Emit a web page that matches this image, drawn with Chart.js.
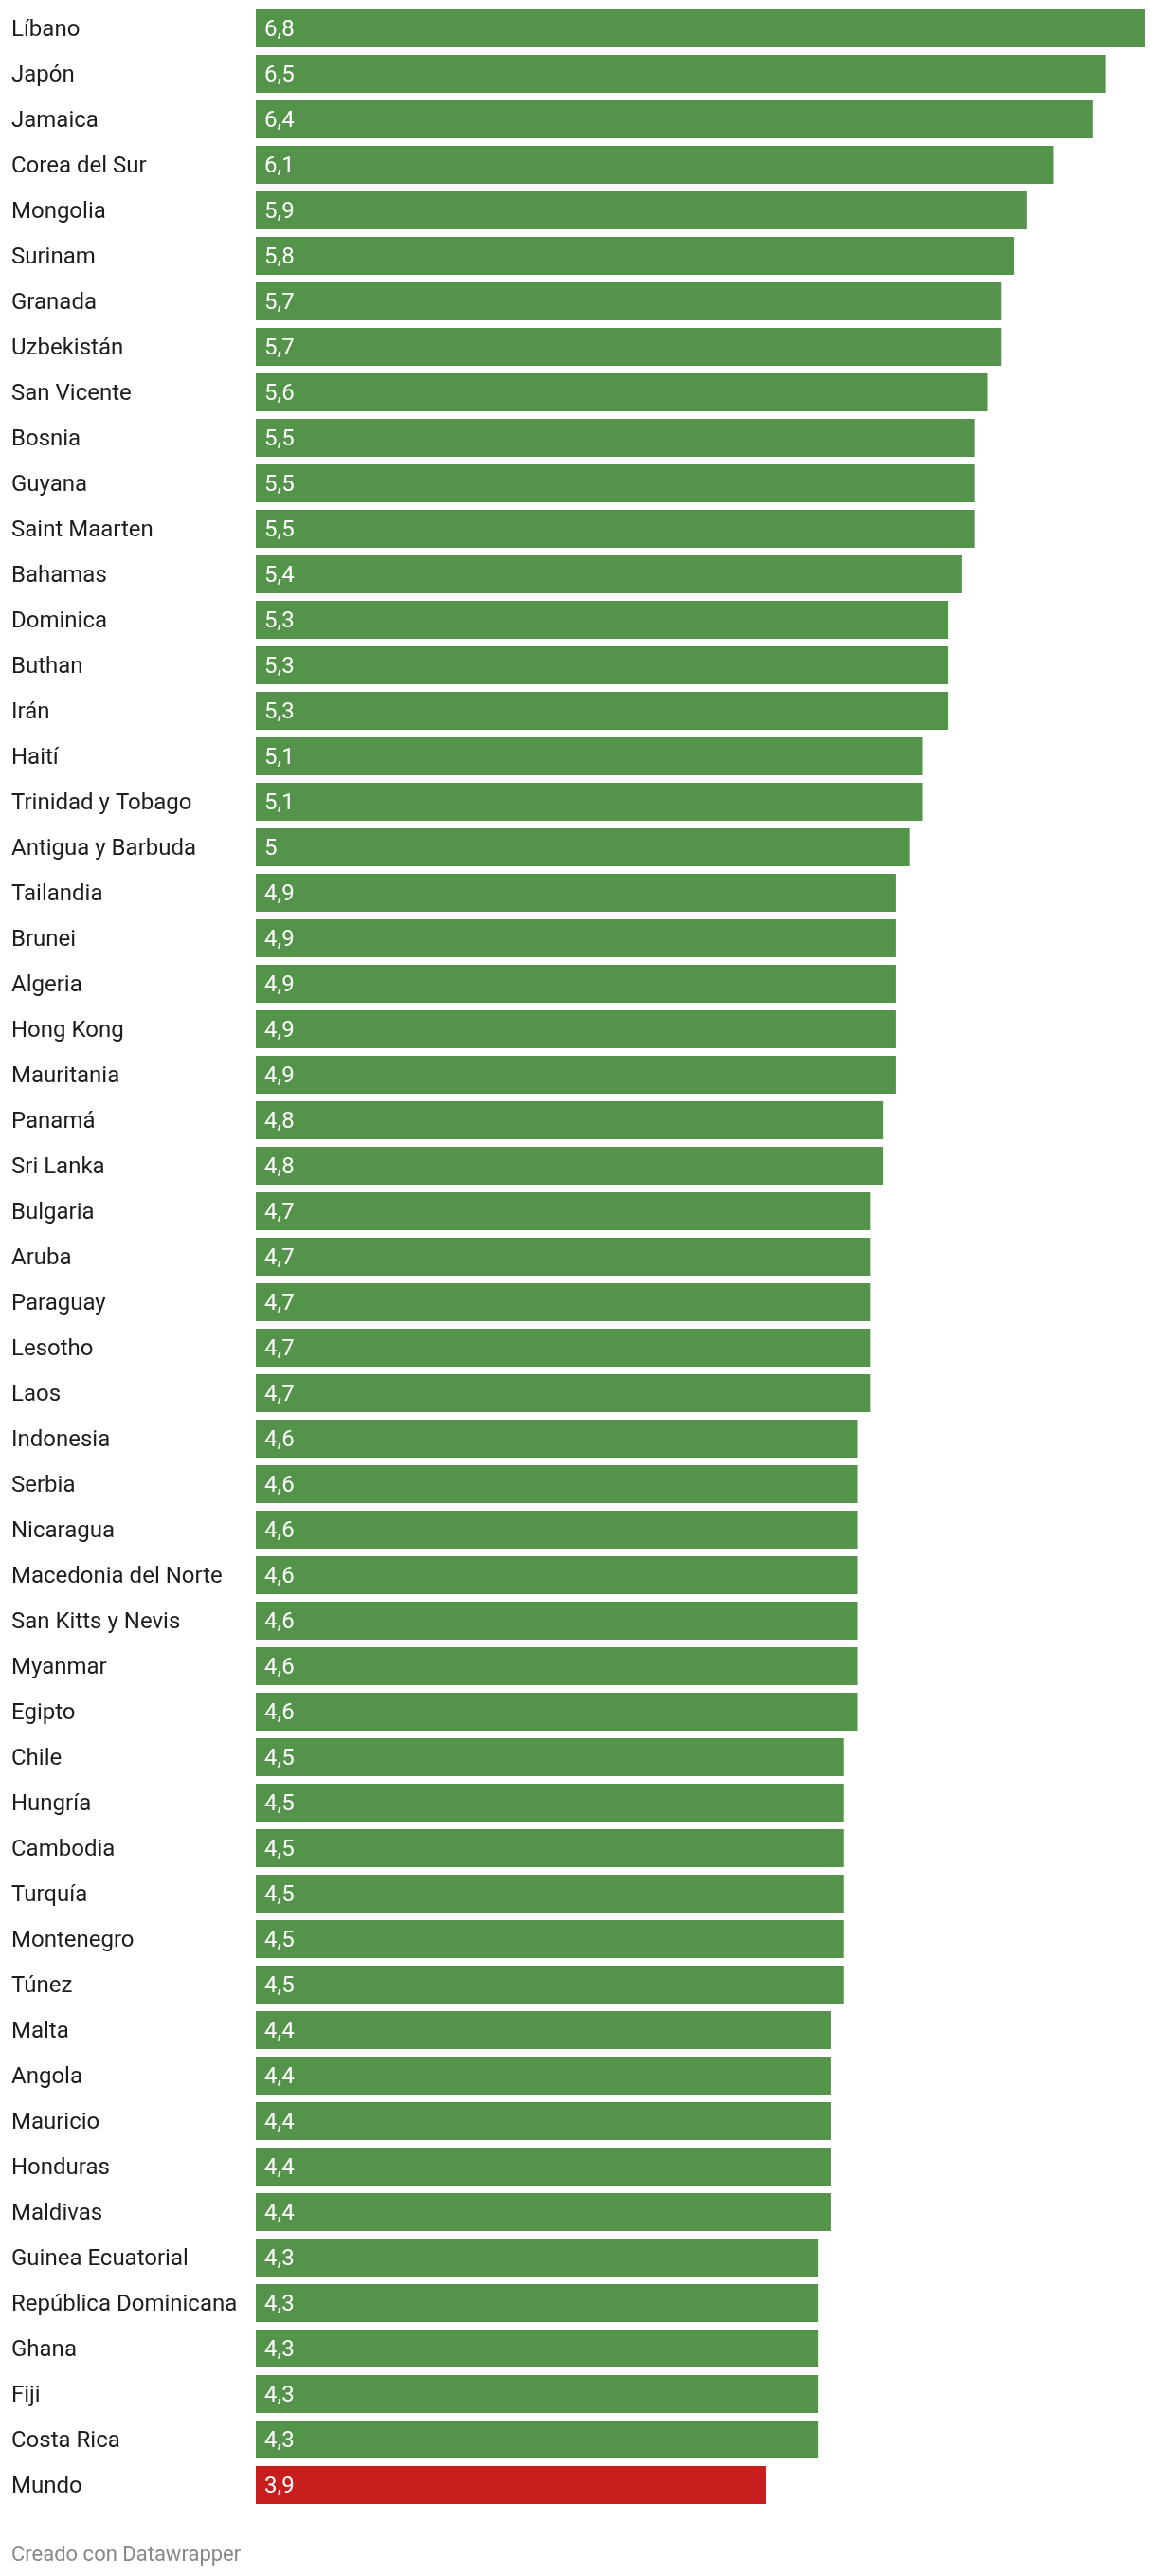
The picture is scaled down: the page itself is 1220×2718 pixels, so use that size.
<!DOCTYPE html>
<html>
<head>
<meta charset="utf-8">
<script src="https://cdn.jsdelivr.net/npm/chart.js@4/dist/chart.umd.min.js"></script>
<style>
  html, body { margin: 0; padding: 0; background: #fff; }
  #wrap { position: relative; width: 1220px; height: 2718px; }
  #footer { position: absolute; left: 12px; top: 2682px; font-family: Roboto, sans-serif; font-size: 22px; color: #888; }
</style>
</head>
<body>
<div id="wrap">
  <canvas id="c" width="1220" height="2718"></canvas>
  <div id="footer">Creado con Datawrapper</div>
</div>
<script>
const categories = [
  "Líbano","Japón","Jamaica","Corea del Sur","Mongolia","Surinam","Granada","Uzbekistán",
  "San Vicente","Bosnia","Guyana","Saint Maarten","Bahamas","Dominica","Buthan","Irán",
  "Haití","Trinidad y Tobago","Antigua y Barbuda","Tailandia","Brunei","Algeria","Hong Kong",
  "Mauritania","Panamá","Sri Lanka","Bulgaria","Aruba","Paraguay","Lesotho","Laos",
  "Indonesia","Serbia","Nicaragua","Macedonia del Norte","San Kitts y Nevis","Myanmar",
  "Egipto","Chile","Hungría","Cambodia","Turquía","Montenegro","Túnez","Malta","Angola",
  "Mauricio","Honduras","Maldivas","Guinea Ecuatorial","República Dominicana","Ghana",
  "Fiji","Costa Rica","Mundo"
];
const values = [
  6.8,6.5,6.4,6.1,5.9,5.8,5.7,5.7,
  5.6,5.5,5.5,5.5,5.4,5.3,5.3,5.3,
  5.1,5.1,5.0,4.9,4.9,4.9,4.9,
  4.9,4.8,4.8,4.7,4.7,4.7,4.7,4.7,
  4.6,4.6,4.6,4.6,4.6,4.6,
  4.6,4.5,4.5,4.5,4.5,4.5,4.5,4.4,4.4,
  4.4,4.4,4.4,4.3,4.3,4.3,
  4.3,4.3,3.9
];
const highlight = ["Mundo"];
const GREEN = "#54944a";
const RED = "#c71e1d";

function fmt(v) {
  return Number.isInteger(v) ? String(v) : v.toFixed(1).replace(".", ",");
}

const labelPlugin = {
  id: "labels",
  afterDatasetsDraw(chart) {
    const ctx = chart.ctx;
    const y = chart.scales.y;
    const x = chart.scales.x;
    ctx.save();
    ctx.font = "24px Roboto";
    ctx.textBaseline = "middle";
    categories.forEach((cat, i) => {
      const py = y.getPixelForValue(i) + 2;
      ctx.fillStyle = "#1d1d1d";
      ctx.textAlign = "left";
      ctx.fillText(cat, 12, py);
      ctx.fillStyle = "#ffffff";
      ctx.fillText(fmt(values[i]), x.getPixelForValue(0) + 9, py);
    });
    ctx.restore();
  }
};

new Chart(document.getElementById("c"), {
  type: "bar",
  data: {
    labels: categories,
    datasets: [{
      data: values,
      backgroundColor: categories.map(c => highlight.includes(c) ? RED : GREEN),
      borderWidth: 0,
      barPercentage: 40 / 48,
      categoryPercentage: 1
    }]
  },
  options: {
    indexAxis: "y",
    responsive: false,
    animation: false,
    layout: { padding: { left: 270, right: 12, top: 6, bottom: 72 } },
    plugins: { legend: { display: false }, tooltip: { enabled: false } },
    scales: {
      x: { display: false, min: 0, max: 6.8 },
      y: { display: false }
    }
  },
  plugins: [labelPlugin]
});
</script>
</body>
</html>
